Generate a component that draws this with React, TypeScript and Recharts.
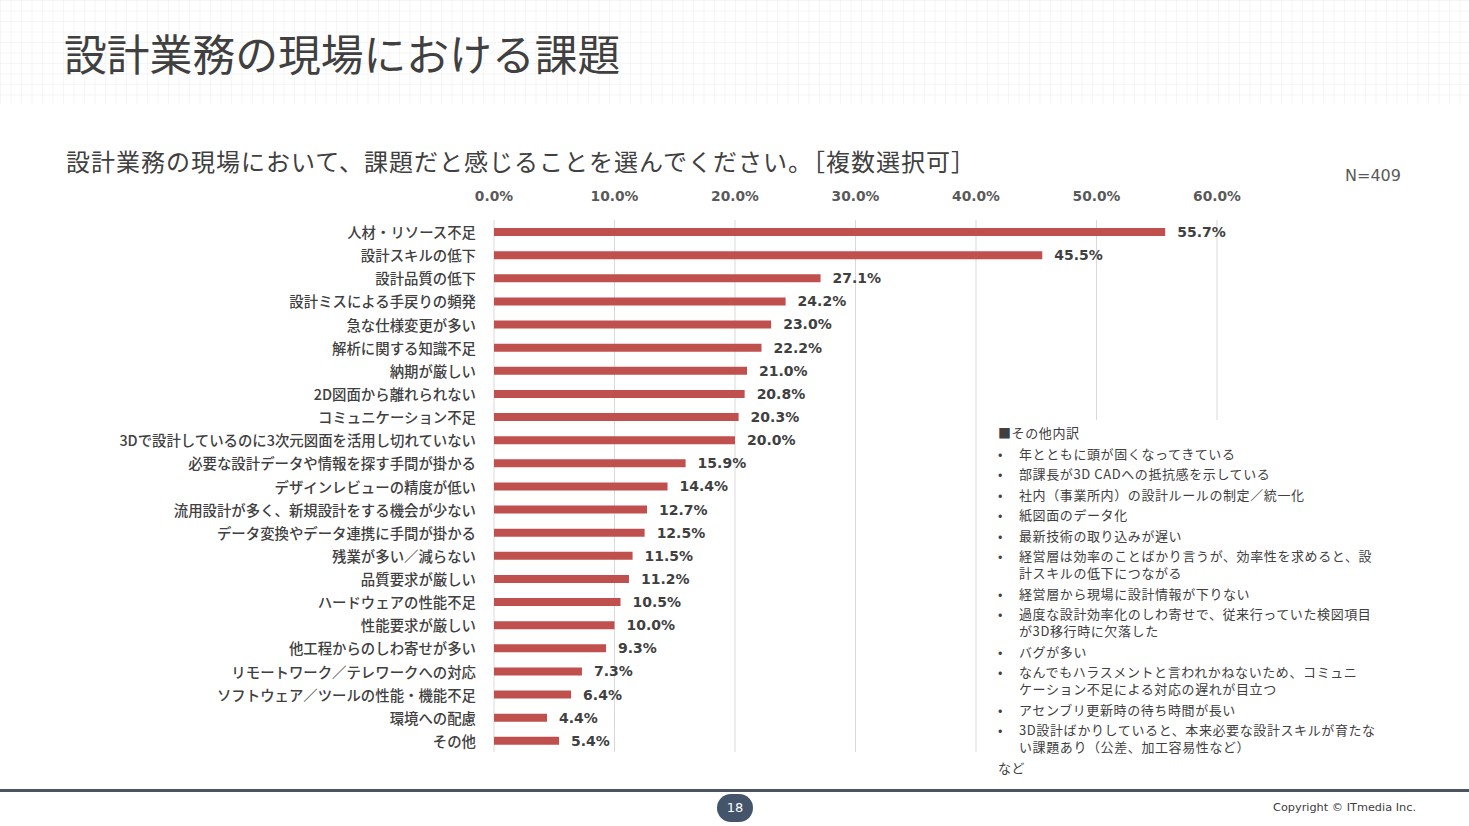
import React from 'react';
import { BarChart, Bar, XAxis, YAxis, CartesianGrid, LabelList } from 'recharts';

const categories = [
  '人材・リソース不足',
  '設計スキルの低下',
  '設計品質の低下',
  '設計ミスによる手戻りの頻発',
  '急な仕様変更が多い',
  '解析に関する知識不足',
  '納期が厳しい',
  '2D図面から離れられない',
  'コミュニケーション不足',
  '3Dで設計しているのに3次元図面を活用し切れていない',
  '必要な設計データや情報を探す手間が掛かる',
  'デザインレビューの精度が低い',
  '流用設計が多く、新規設計をする機会が少ない',
  'データ変換やデータ連携に手間が掛かる',
  '残業が多い／減らない',
  '品質要求が厳しい',
  'ハードウェアの性能不足',
  '性能要求が厳しい',
  '他工程からのしわ寄せが多い',
  'リモートワーク／テレワークへの対応',
  'ソフトウェア／ツールの性能・機能不足',
  '環境への配慮',
  'その他',
];

const values = [55.7, 45.5, 27.1, 24.2, 23.0, 22.2, 21.0, 20.8, 20.3, 20.0, 15.9, 14.4, 12.7, 12.5, 11.5, 11.2, 10.5, 10.0, 9.3, 7.3, 6.4, 4.4, 5.4];

const xTicks = [0, 10, 20, 30, 40, 50, 60];

// その他内訳: each item is a list of its wrapped lines
const otherItems = [
  ['年とともに頭が固くなってきている'],
  ['部課長が3D CADへの抵抗感を示している'],
  ['社内（事業所内）の設計ルールの制定／統一化'],
  ['紙図面のデータ化'],
  ['最新技術の取り込みが遅い'],
  ['経営層は効率のことばかり言うが、効率性を求めると、設', '計スキルの低下につながる'],
  ['経営層から現場に設計情報が下りない'],
  ['過度な設計効率化のしわ寄せで、従来行っていた検図項目', 'が3D移行時に欠落した'],
  ['バグが多い'],
  ['なんでもハラスメントと言われかねないため、コミュニ', 'ケーション不足による対応の遅れが目立つ'],
  ['アセンブリ更新時の待ち時間が長い'],
  ['3D設計ばかりしていると、本来必要な設計スキルが育たな', 'い課題あり（公差、加工容易性など）'],
];

const data = categories.map((name, i) => ({ name, value: values[i] }));

const JP = '"Noto Sans CJK JP", "Noto Sans", sans-serif';
const LATIN = '"DejaVu Sans", Verdana, sans-serif';

const XTick = ({ x, y, payload }: any) => (
  <text x={x} y={y - 16} textAnchor="middle" dominantBaseline="central" fontFamily={LATIN} fontSize={13.8} fontWeight="bold" fill="#595959">
    {payload.value.toFixed(1)}%
  </text>
);

const YTick = ({ x, y, payload }: any) => (
  <text x={x - 10} y={y} textAnchor="end" dominantBaseline="central" fontFamily={JP} fontSize={14.4} fontWeight={500} fill="#404040">
    {payload.value}
  </text>
);

function OtherBox() {
  const rows: React.ReactNode[] = [];
  let y = 0;
  otherItems.forEach((lines, i) => {
    rows.push(
      <div key={`b-${i}`} style={{ position: 'absolute', left: 0, top: y }}>
        •
      </div>
    );
    rows.push(
      <div key={`t-${i}`} style={{ position: 'absolute', left: 21, top: y, whiteSpace: 'nowrap', lineHeight: '17px' }}>
        {lines.map((line, j) => (
          <React.Fragment key={j}>
            {j > 0 && <br />}
            {line}
          </React.Fragment>
        ))}
      </div>
    );
    y += 17 * (lines.length - 1) + 20.45;
  });
  return (
    <div style={{ position: 'absolute', left: 986, top: 420, width: 415, height: 362, background: '#fff', fontFamily: JP, fontSize: 13, letterSpacing: 0.6, color: '#404040', lineHeight: '17px' }}>
      <div style={{ position: 'absolute', left: 12, top: 4 }}>■その他内訳</div>
      <div style={{ position: 'absolute', left: 12, top: 25, width: 400 }}>
        {rows}
      </div>
      <div style={{ position: 'absolute', left: 12, top: 339 }}>など</div>
    </div>
  );
}

export default function App() {
  return (
    <div style={{ position: 'absolute', left: 0, top: 0, width: 1469, height: 826, background: '#fff', overflow: 'hidden' }}>
      <svg width={1469} height={104} style={{ position: 'absolute', left: 0, top: 0 }}>
        <defs>
          <pattern id="gridpat" width={10.5} height={10.5} patternUnits="userSpaceOnUse">
            <path d="M 10.5 0 L 0 0 0 10.5" fill="none" stroke="#ebebeb" strokeWidth={1} />
          </pattern>
        </defs>
        <rect x={0} y={0} width={1469} height={104} fill="url(#gridpat)" />
      </svg>
      <div style={{ position: 'absolute', left: 64, top: 22, fontFamily: JP, fontSize: 42.8, color: '#404040', whiteSpace: 'nowrap', lineHeight: '60px' }}>
        設計業務の現場における課題
      </div>
      <div style={{ position: 'absolute', left: 66, top: 144, fontFamily: JP, fontSize: 24, letterSpacing: 1, color: '#404040', whiteSpace: 'nowrap', lineHeight: '34px' }}>
        設計業務の現場において、課題だと感じることを選んでください。［複数選択可］
      </div>
      <div style={{ position: 'absolute', left: 1345, top: 165, fontFamily: LATIN, fontSize: 16, color: '#595959', lineHeight: '22px' }}>
        N=409
      </div>

      <div style={{ position: 'absolute', left: 0, top: 0 }}>
        <BarChart width={1469} height={826} data={data} layout="vertical" margin={{ top: 180, right: 252, bottom: 74, left: 0 }}>
          <CartesianGrid horizontal={false} stroke="#d9d9d9" />
          <XAxis type="number" orientation="top" domain={[0, 60]} ticks={xTicks} height={40} axisLine={false} tickLine={false} tick={<XTick />} interval={0} />
          <YAxis type="category" dataKey="name" width={494} axisLine={false} tickLine={false} tick={<YTick />} interval={0} />
          <Bar dataKey="value" fill="#c0504d" barSize={8} isAnimationActive={false}>
            <LabelList dataKey="value" position="right" offset={12} formatter={(v: any) => `${Number(v).toFixed(1)}%`} style={{ fontFamily: LATIN, fontSize: 14, fontWeight: 'bold', fill: '#404040' }} />
          </Bar>
        </BarChart>
      </div>

      <OtherBox />

      <div style={{ position: 'absolute', left: 0, top: 789, width: 1469, height: 3, background: '#4a5461' }} />
      <div style={{ position: 'absolute', left: 717, top: 794, width: 36, height: 28, borderRadius: 14, background: '#44546a', color: '#fff', fontFamily: LATIN, fontSize: 13, lineHeight: '28px', textAlign: 'center' }}>
        18
      </div>
      <div style={{ position: 'absolute', left: 1273, top: 800, fontFamily: LATIN, fontSize: 11.3, color: '#404040', whiteSpace: 'nowrap', lineHeight: '16px' }}>
        Copyright © ITmedia Inc.
      </div>
    </div>
  );
}
